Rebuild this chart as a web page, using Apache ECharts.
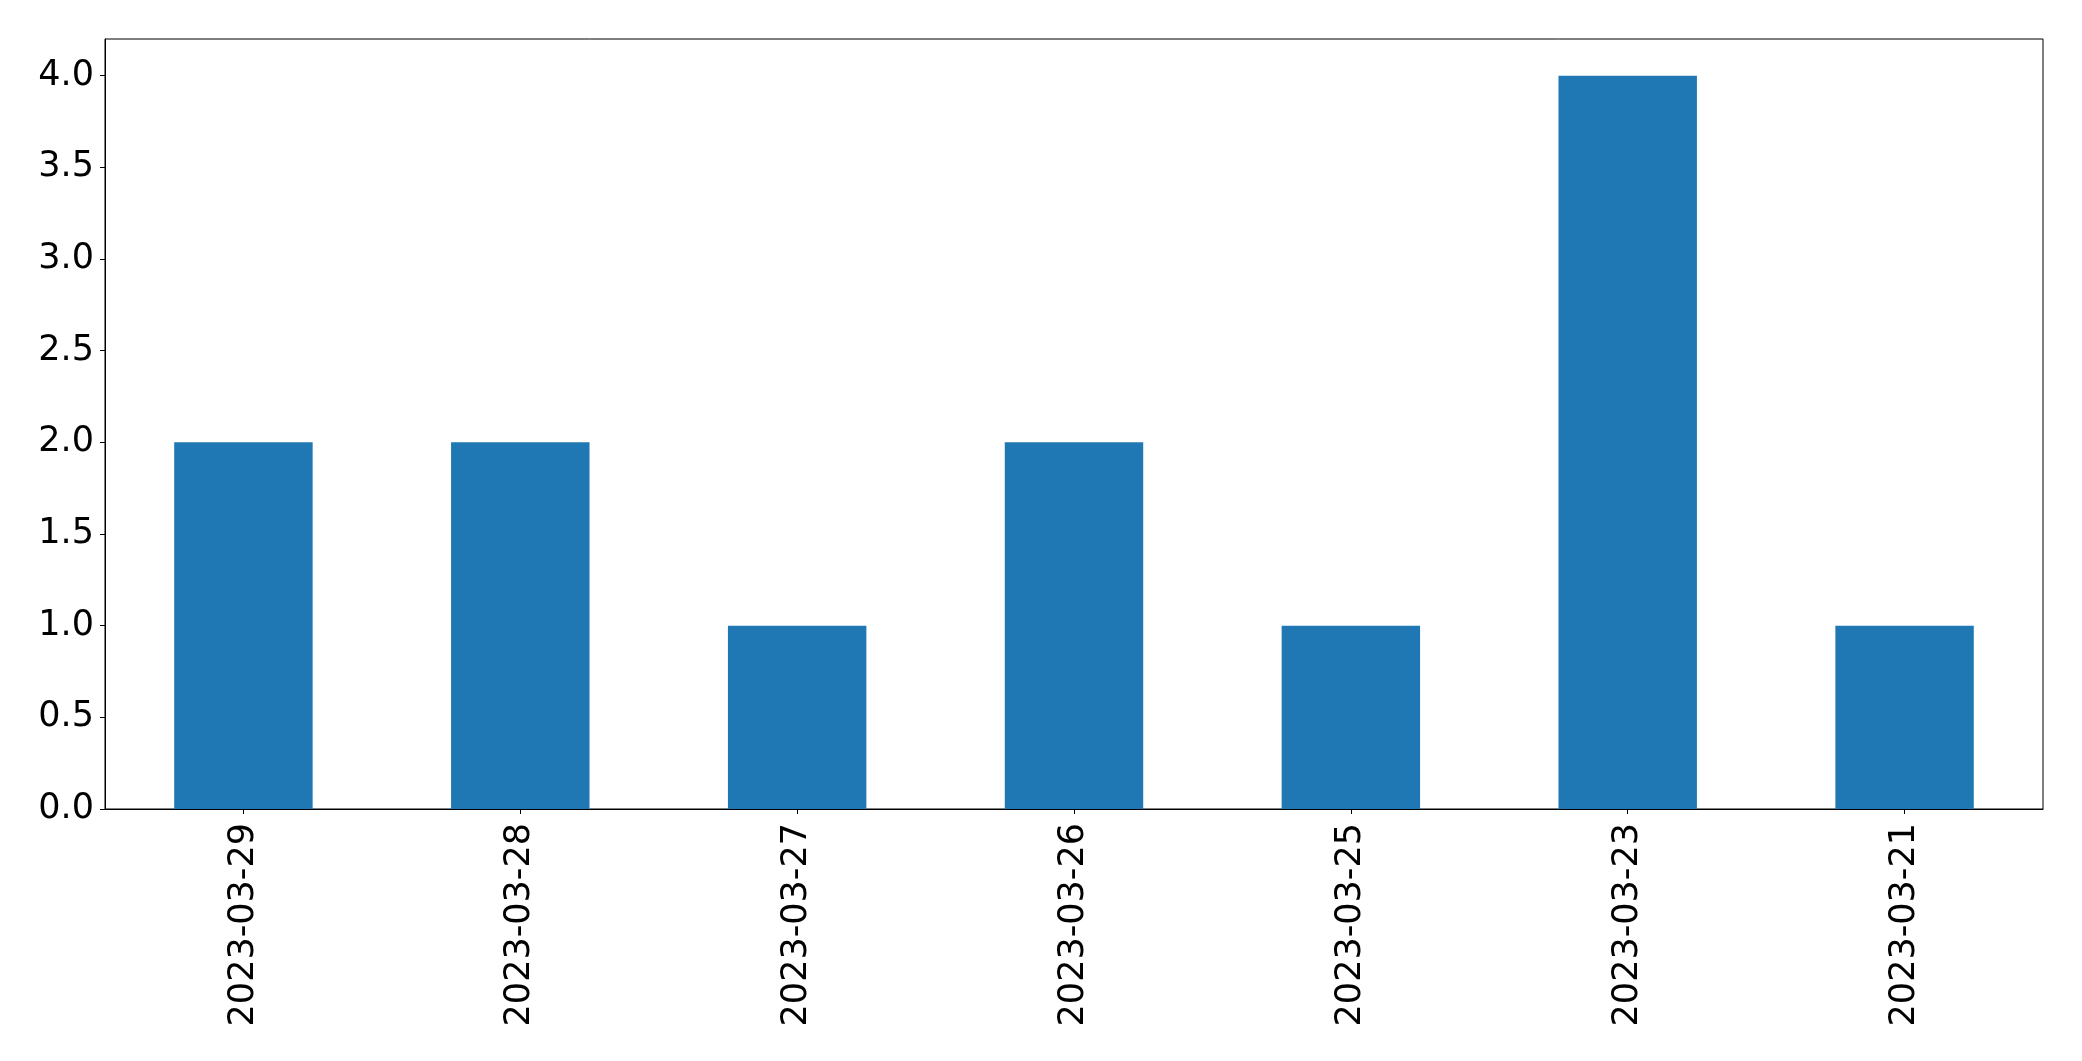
<!DOCTYPE html>
<html>
<head>
<meta charset="utf-8">
<script src="https://cdn.jsdelivr.net/npm/echarts@6/dist/echarts.min.js"></script>
<style>
html,body{margin:0;padding:0;background:#fff;}
#c{width:2082px;height:1061px;}
</style>
</head>
<body>
<div id="c"></div>
<script>
const categories = ['2023-03-29','2023-03-28','2023-03-27','2023-03-26','2023-03-25','2023-03-23','2023-03-21'];
const values = [2, 2, 1, 2, 1, 4, 1];
const yTicks = [0, 0.5, 1.0, 1.5, 2.0, 2.5, 3.0, 3.5, 4.0];

const chart = echarts.init(document.getElementById('c'), null, {renderer: 'canvas'});
const font = 'DejaVu Sans';
chart.setOption({
  animation: false,
  backgroundColor: '#ffffff',
  grid: {
    left: 105, right: 39, top: 39, bottom: 252,
    show: true, borderColor: '#000', borderWidth: 1, backgroundColor: 'transparent'
  },
  xAxis: {
    type: 'category',
    data: categories,
    boundaryGap: true,
    axisLine: {show: true, lineStyle: {color: '#000', width: 1}},
    axisTick: {show: true, alignWithLabel: true, length: 5, lineStyle: {color: '#000', width: 1}},
    axisLabel: {rotate: 90, margin: 14, fontSize: 35, fontFamily: font, color: '#000', interval: 0},
    splitLine: {show: false}
  },
  yAxis: {
    type: 'value',
    min: 0,
    max: 4.2,
    axisLine: {show: true, lineStyle: {color: '#000', width: 1}},
    axisTick: {show: true, length: 5, customValues: yTicks, lineStyle: {color: '#000', width: 1}},
    axisLabel: {
      margin: 11, fontSize: 35, fontFamily: font, color: '#000',
      customValues: yTicks,
      formatter: v => Number(v).toFixed(1)
    },
    splitLine: {show: false}
  },
  series: [{
    type: 'bar',
    data: values,
    barWidth: '50%',
    itemStyle: {color: '#1f77b4'}
  }]
});
</script>
</body>
</html>
